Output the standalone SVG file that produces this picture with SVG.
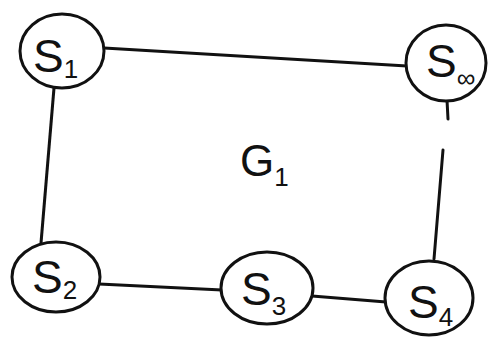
<svg xmlns="http://www.w3.org/2000/svg" width="488" height="345" viewBox="0 0 488 345">
<style>
.n{fill:#fff;stroke:#111;stroke-width:3}
.e{stroke:#111;stroke-width:3;fill:none;stroke-linecap:round}
.s{font-family:"Liberation Sans",Arial,sans-serif;font-size:46px;fill:#111}
.sub{font-size:26px}
</style>
<rect width="488" height="345" fill="#fff"/>
<g id="edges">
<line class="e" x1="104" y1="48" x2="407" y2="66"/>
<line class="e" x1="54" y1="88" x2="41" y2="243"/>
<line class="e" x1="447" y1="100" x2="448" y2="119"/>
<line class="e" x1="443" y1="150" x2="434" y2="259"/>
<line class="e" x1="99" y1="284" x2="222" y2="290"/>
<line class="e" x1="312" y1="296" x2="386" y2="302"/>
</g>
<g id="S1"><ellipse class="n" cx="62" cy="51" rx="42" ry="37"/><text class="s" x="33" y="72">S<tspan class="sub" dy="6">1</tspan></text></g>
<g id="Sinf"><ellipse class="n" cx="446" cy="63" rx="40" ry="38"/><text class="s" x="426" y="77">S<tspan class="sub" dy="10">∞</tspan></text></g>
<g id="S2"><ellipse class="n" cx="56" cy="277" rx="44" ry="35"/><text class="s" x="32" y="293">S<tspan class="sub" dy="6">2</tspan></text></g>
<g id="S3"><ellipse class="n" cx="267" cy="288" rx="46" ry="36"/><text class="s" x="241" y="305">S<tspan class="sub" dy="10">3</tspan></text></g>
<g id="S4"><ellipse class="n" cx="429" cy="298" rx="44" ry="37"/><text class="s" x="408" y="318">S<tspan class="sub" dy="8">4</tspan></text></g>
<g id="G1"><text class="s" x="240" y="176" style="font-size:44px">G<tspan class="sub" dy="10">1</tspan></text></g>
</svg>
